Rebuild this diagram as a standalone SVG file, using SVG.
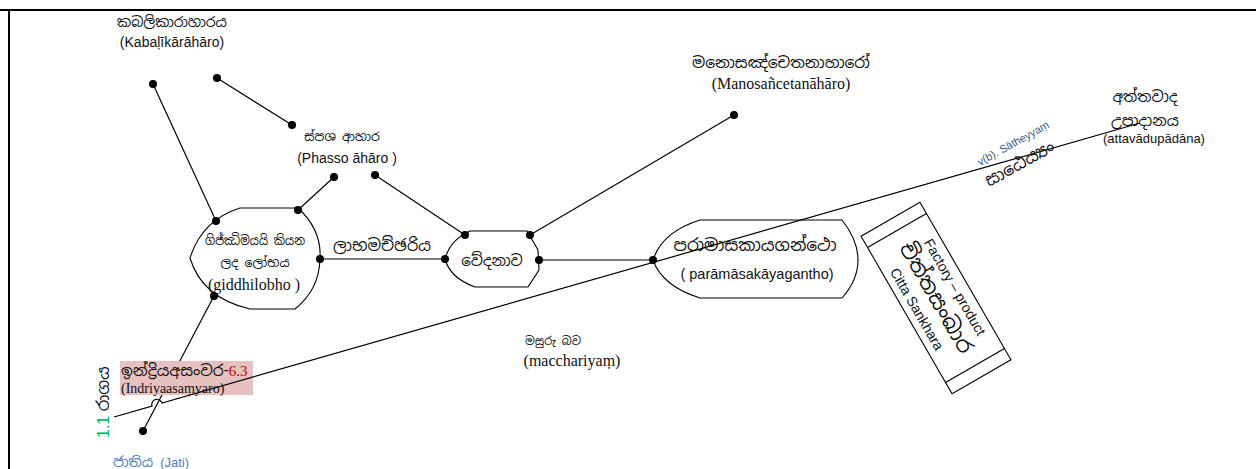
<svg xmlns="http://www.w3.org/2000/svg" width="1256" height="469" viewBox="0 0 1256 469">
  <style>
    .ln { stroke: #000; stroke-width: 1.2; fill: none; }
    .shape { stroke: #000; stroke-width: 1.1; fill: #fff; }
    .dot { fill: #000; }
    .si { font-family: "Noto Sans Sinhala", "Noto Serif Sinhala", "Iskoola Pota", "Noto Sans", sans-serif; }
    .sans { font-family: "Liberation Sans", Arial, sans-serif; }
    .serif { font-family: "Liberation Serif", "Times New Roman", serif; }
    text { fill: #111; }
  </style>

  <!-- page frame -->
  <path d="M0 10 H1256 M9 10 V469" stroke="#000" stroke-width="2" fill="none"/>

  <!-- connectors -->
  <g id="connectors">
    <line class="ln" x1="217" y1="78" x2="292" y2="125"/>
    <line class="ln" x1="153" y1="84" x2="216" y2="221"/>
    <line class="ln" x1="334" y1="177" x2="298" y2="210"/>
    <line class="ln" x1="375" y1="175" x2="465" y2="235"/>
    <line class="ln" x1="320" y1="259" x2="445" y2="259"/>
    <line class="ln" x1="530" y1="235" x2="734" y2="115"/>
    <line class="ln" x1="539" y1="260" x2="653" y2="260"/>
    <line class="ln" x1="214" y1="296" x2="143" y2="431"/>
  </g>

  <!-- giddhilobho -->
  <g id="giddhilobho">
    <path class="shape" d="M240 208 L298 208 Q322 230 320 259 Q319 290 295 309 L250 309 Q202 298 190 258 Q202 220 240 208 Z"/>
    <text class="si" x="205" y="245" font-size="13" textLength="100" lengthAdjust="spacingAndGlyphs">ගිජ්ඣිමයයි කියන</text>
    <text class="si" x="255" y="267" font-size="12.5" text-anchor="middle">ලද ලෝභය</text>
    <text class="serif" x="254" y="290" font-size="16" text-anchor="middle">(giddhilobho )</text>
  </g>

  <!-- vedanava -->
  <g id="vedanava">
    <path class="shape" d="M470 231 L527 231 L538 250 L539 270 L528 287 L475 287 Q450 278 445 259 Q450 240 470 231 Z"/>
    <text class="si" x="492" y="266" font-size="15" text-anchor="middle">වේදනාව</text>
  </g>

  <!-- paramasakayagantho -->
  <g id="paramasa">
    <path class="shape" d="M700 220 L842 220 Q858 240 858 260 Q858 280 842 298 L700 298 Q662 286 653 260 Q662 232 700 220 Z"/>
    <text class="si" x="755" y="251" font-size="17" text-anchor="middle">පරාමාසකායගන්ථො</text>
    <text class="sans" x="757" y="279" font-size="14.5" text-anchor="middle">( parāmāsakāyagantho)</text>
  </g>

  <!-- kabalikaraharo -->
  <g id="kabalikara">
    <text class="si" x="172" y="27" font-size="14" text-anchor="middle">කබලිකාරාහාරය</text>
    <text class="sans" x="172" y="47" font-size="14" text-anchor="middle">(Kabaḷīkārāhāro)</text>
  </g>

  <!-- phasso ahara -->
  <g id="phasso">
    <text class="si" x="342" y="141" font-size="12.5" text-anchor="middle">ස්පශ ආහාර</text>
    <text class="sans" x="347" y="163" font-size="14" text-anchor="middle">(Phasso āhāro )</text>
  </g>

  <!-- manosancetanaharo -->
  <g id="manosancetana">
    <text class="si" x="781" y="68" font-size="15.5" text-anchor="middle">මනොසඤ්චෙතනාහාරෝ</text>
    <text class="serif" x="781" y="89" font-size="16" text-anchor="middle">(Manosañcetanāhāro)</text>
  </g>

  <!-- labhamacchariya -->
  <g id="labhamacchariya">
    <text class="si" x="382" y="251" font-size="16" text-anchor="middle">ලාභමච්ඡරිය</text>
  </g>

  <!-- macchariyam -->
  <g id="macchariyam">
    <text class="si" x="553" y="345" font-size="11.5" text-anchor="middle">මසුරු බව</text>
    <text class="serif" x="572" y="366" font-size="16" text-anchor="middle">(macchariyaṃ)</text>
  </g>

  <!-- attavadupadana -->
  <g id="attavada">
    <text class="si" x="1145" y="102" font-size="15" text-anchor="middle">අත්තවාද</text>
    <text class="si" x="1145" y="126" font-size="15" text-anchor="middle">උපාදානය</text>
    <text class="sans" x="1154" y="143" font-size="13" text-anchor="middle">(attavādupādāna)</text>
  </g>

  <!-- indriya asamvara -->
  <g id="indriya">
    <rect x="120" y="361" width="133" height="34" fill="#e6c1c0"/>
    <text class="si" x="121" y="376" font-size="15.5"><tspan>ඉන්ද්‍රියඅසංවර-</tspan><tspan class="serif" font-size="15" style="fill:#c00000">6.3</tspan></text>
    <text class="serif" x="121" y="393" font-size="14">(Indriyaasaṃyaro)</text>
  </g>

  <!-- long diagonal connector with line hop -->
  <g id="connectors-long">
    <path class="ln" d="M114 417 L152 406 A5 5 0 0 1 162 403 L1140 123"/>
  </g>

  <!-- satheyyam labels along the diagonal -->
  <g id="satheyyam">
    <text class="sans" x="0" y="0" font-size="11" style="fill:#3b5b8c" transform="translate(980 166) rotate(-29)">v(b). Sātheyyaṃ</text>
    <text class="si" x="0" y="0" font-size="17" transform="translate(989 187) rotate(-29)">සාඨෙය්‍යං</text>
  </g>

  <!-- raga -->
  <g id="raga">
    <text x="0" y="0" transform="translate(109 438) rotate(-90)"><tspan class="sans" font-size="16" style="fill:#00b050">1.1 </tspan><tspan class="si" font-size="16.5">රාගය</tspan></text>
  </g>

  <!-- jati -->
  <g id="jati">
    <text x="113" y="467"><tspan class="si" font-size="14" style="fill:#4f81bd">ජාතිය </tspan><tspan class="sans" font-size="13" style="fill:#4f81bd">(Jati)</tspan></text>
  </g>

  <!-- citta sankhara box -->
  <g id="citta-sankhara" transform="translate(936 298) rotate(60)">
    <rect class="shape" x="-91" y="-34" width="182" height="68"/>
    <line class="ln" x1="-78" y1="-34" x2="-78" y2="34"/>
    <line class="ln" x1="78" y1="-34" x2="78" y2="34"/>
    <text class="sans" x="0" y="-17" font-size="14" text-anchor="middle">Factory – product</text>
    <text class="si" x="0" y="7" font-size="21" text-anchor="middle">චිත්තසංඛාර</text>
    <text class="sans" x="0" y="27" font-size="14" text-anchor="middle">Citta Sankhara</text>
  </g>

  <!-- connection points -->
  <g id="points">
    <circle class="dot" cx="153" cy="84" r="4"/>
    <circle class="dot" cx="217" cy="78" r="4"/>
    <circle class="dot" cx="292" cy="125" r="4"/>
    <circle class="dot" cx="334" cy="177" r="4"/>
    <circle class="dot" cx="375" cy="175" r="4"/>
    <circle class="dot" cx="216" cy="221" r="4"/>
    <circle class="dot" cx="298" cy="210" r="4"/>
    <circle class="dot" cx="320" cy="259" r="4"/>
    <circle class="dot" cx="214" cy="296" r="4"/>
    <circle class="dot" cx="445" cy="259" r="4"/>
    <circle class="dot" cx="465" cy="235" r="4"/>
    <circle class="dot" cx="530" cy="235" r="4"/>
    <circle class="dot" cx="539" cy="260" r="4"/>
    <circle class="dot" cx="734" cy="115" r="4"/>
    <circle class="dot" cx="653" cy="260" r="4"/>
    <circle class="dot" cx="143" cy="431" r="4"/>
  </g>
</svg>
